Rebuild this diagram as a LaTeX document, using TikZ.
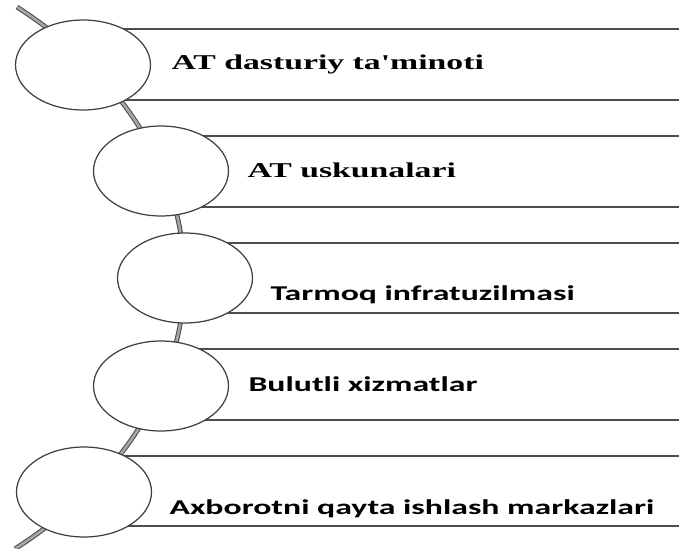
\documentclass[tikz,border=0pt]{standalone}
\usepackage{fontspec}
\newfontfamily\ttserif{Liberation Serif}
\newfontfamily\ttsans{Carlito}
\usepackage{tikz}
\usetikzlibrary{shapes.geometric}

\begin{document}
\begin{tikzpicture}[
      x=0.02cm, y=-0.02cm,
      disc/.style={ellipse, draw=black!75, fill=white, line width=0.7pt, minimum width=2.7cm, minimum height=1.8cm, inner sep=0pt},
      band/.style={draw=black!70, line width=0.7pt},
      label/.style={anchor=base west, inner sep=0pt, xscale=1.6, font=\fontsize{12}{14}\selectfont\bfseries},
      spine/.style={draw=black!70, double=black!35, line width=0.6pt, double distance=1.5pt}
  ]
      \useasboundingbox (0,0) rectangle (679,548);

      % Curved spine behind the circles
      \draw[spine] (17,7) arc[start angle=-48.3, end angle=48.6, x radius=500, y radius=362];

      % Band lines
      \draw[band] (83,29) -- (679,29);   \draw[band] (83,100) -- (679,100);
      \draw[band] (161,136) -- (679,136); \draw[band] (161,207) -- (679,207);
      \draw[band] (185,243) -- (679,243); \draw[band] (185,313) -- (679,313);
      \draw[band] (161,349) -- (679,349); \draw[band] (161,420) -- (679,420);
      \draw[band] (84,456) -- (679,456);  \draw[band] (84,526) -- (679,526);

      % Circles
      \node[disc] (c1) at (83,65) {};
      \node[disc] (c2) at (161,171) {};
      \node[disc] (c3) at (185,278) {};
      \node[disc] (c4) at (161,386) {};
      \node[disc] (c5) at (84,492) {};

      % Labels
      \node[label] (t1) at (171,69) {\ttserif AT dasturiy ta'minoti};
      \node[label] (t2) at (247,177) {\ttserif AT uskunalari};
      \node[label] (t3) at (270,300) {\ttsans Tarmoq infratuzilmasi};
      \node[label] (t4) at (248,391) {\ttsans Bulutli xizmatlar};
      \node[label] (t5) at (169,514) {\ttsans Axborotni qayta ishlash markazlari};

  \end{tikzpicture}
\end{document}
